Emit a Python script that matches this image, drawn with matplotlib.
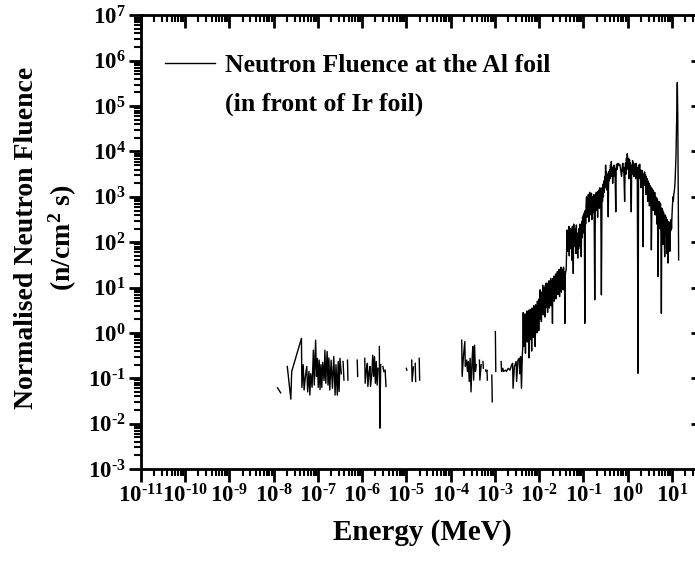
import numpy as np
import matplotlib
matplotlib.use('Agg')
import matplotlib.pyplot as plt
from matplotlib.ticker import LogLocator, NullFormatter, FuncFormatter

plt.rcParams['font.family'] = 'Liberation Serif'
plt.rcParams['font.weight'] = 'bold'
plt.rcParams['axes.labelweight'] = 'bold'
plt.rcParams['mathtext.fontset'] = 'custom'
plt.rcParams['mathtext.rm'] = 'Liberation Serif:bold'
plt.rcParams['mathtext.it'] = 'Liberation Serif:italic:bold'
plt.rcParams['mathtext.bf'] = 'Liberation Serif:bold'

GAP = [(np.nan, np.nan)]

# (log10 energy in MeV, log10 fluence), GAP = no data
thermal = [(-7.91, -1.21), (-7.84, -1.32)] + GAP + [
    (-7.69, -0.74), (-7.61, -1.46), (-7.59, -0.85), (-7.47, -0.45), (-7.37, -0.12),
    (-7.36, -1.20), (-7.33, -0.70), (-7.31, -1.26), (-7.28, -0.95), (-7.25, -0.74),
    (-7.23, -1.30), (-7.20, -0.85), (-7.18, -1.37), (-7.16, -0.90), (-7.13, -1.20),
    (-7.10, -0.38), (-7.08, -1.15), (-7.05, -0.16), (-7.03, -0.96), (-7.01, -0.56),
    (-6.99, -1.20), (-6.97, -0.60), (-6.95, -1.25), (-6.93, -0.70), (-6.91, -1.20),
    (-6.89, -0.65), (-6.86, -1.05), (-6.84, -0.38), (-6.82, -1.11), (-6.79, -0.41),
    (-6.77, -1.15), (-6.75, -0.55), (-6.73, -1.26), (-6.70, -0.60), (-6.67, -1.22),
    (-6.64, -0.52), (-6.61, -1.37), (-6.59, -0.70), (-6.56, -1.37), (-6.54, -0.63),
    (-6.52, -1.29), (-6.50, -0.56), (-6.47, -0.90)] + GAP + [
    (-6.43, -0.63), (-6.41, -1.04)] + GAP + [
    (-6.33, -0.60), (-6.32, -1.04)] + GAP + [
    (-6.11, -0.60), (-6.10, -0.96)] + GAP + [
    (-5.94, -0.56), (-5.93, -1.11), (-5.90, -0.78), (-5.88, -0.67), (-5.87, -1.18),
    (-5.84, -0.85), (-5.82, -0.74), (-5.81, -1.18), (-5.78, -0.90), (-5.76, -0.49),
    (-5.74, -0.96), (-5.72, -0.52), (-5.70, -1.11), (-5.68, -0.63), (-5.66, -1.15),
    (-5.64, -0.78)] + GAP + [
    (-5.61, -0.30), (-5.60, -2.10), (-5.58, -0.70)] + GAP + [
    (-5.53, -0.74), (-5.51, -0.85)] + GAP + [
    (-5.48, -0.82), (-5.46, -1.18)]

epithermal = GAP + [(-5.00, -0.78), (-4.99, -0.82)] + GAP + [
    (-4.88, -0.60), (-4.87, -1.07), (-4.84, -0.75)] + GAP + [
    (-4.80, -0.67), (-4.79, -1.07)] + GAP + [
    (-4.71, -0.56), (-4.70, -1.04)] + GAP + [
    (-3.75, -0.16), (-3.74, -0.96), (-3.71, -0.50), (-3.68, -0.19), (-3.67, -0.74),
    (-3.64, -0.60), (-3.62, -0.85), (-3.60, -0.63), (-3.58, -1.07), (-3.56, -0.56),
    (-3.54, -1.30), (-3.52, -0.70), (-3.50, -0.30), (-3.48, -1.04), (-3.46, -0.27),
    (-3.44, -0.85), (-3.42, -0.70)] + GAP + [
    (-3.35, -0.60), (-3.34, -1.04), (-3.31, -0.70)] + GAP + [
    (-3.27, -0.63), (-3.26, -0.78)] + GAP + [
    (-3.21, -0.82), (-3.20, -0.85), (-3.18, -0.82), (-3.17, -1.04)] + GAP + [
    (-3.07, -0.93), (-3.06, -1.52)] + GAP + [
    (-2.99, 0.03), (-2.98, -0.85)] + GAP + [
    (-2.86, -0.63), (-2.85, -0.85), (-2.82, -0.78), (-2.81, -0.85), (-2.76, -0.82),
    (-2.74, -0.85), (-2.70, -0.78), (-2.66, -0.82), (-2.62, -0.70), (-2.60, -0.67),
    (-2.59, -1.22), (-2.56, -0.74), (-2.52, -0.63), (-2.51, -1.07), (-2.48, -0.60),
    (-2.45, -0.56), (-2.44, -0.90), (-2.42, -0.52), (-2.40, -1.22), (-2.38, -0.45),
    (-2.37, -0.30)]

fast = [
    (-2.36, 0.45), (-2.35, -0.30), (-2.34, 0.40), (-2.33, -0.10), (-2.32, 0.42),
    (-2.31, -0.45), (-2.30, 0.30), (-2.29, 0.05), (-2.28, 0.48), (-2.27, -0.20),
    (-2.26, 0.38), (-2.25, -0.05), (-2.24, 0.50), (-2.23, -0.55), (-2.22, 0.35),
    (-2.21, 0.10), (-2.20, 0.52), (-2.19, -0.15), (-2.18, 0.45), (-2.17, -0.40),
    (-2.16, 0.55), (-2.15, 0.05), (-2.14, 0.50), (-2.13, -0.10), (-2.12, 0.60),
    (-2.11, 0.15), (-2.10, 0.55), (-2.09, -0.30), (-2.08, 0.62), (-2.07, 0.10),
    (-2.06, 0.58), (-2.05, 0.00), (-2.04, 0.70), (-2.03, 0.20), (-2.02, 0.65),
    (-2.01, 0.05), (-2.00, 0.75), (-1.99, 0.30), (-1.98, 0.95), (-1.97, 0.45),
    (-1.96, 0.85), (-1.95, 0.25), (-1.94, 0.90), (-1.93, 0.50), (-1.92, 1.05),
    (-1.91, 0.40), (-1.90, 0.95), (-1.89, 0.60), (-1.88, 1.00), (-1.87, 0.35),
    (-1.86, 1.05), (-1.85, 0.55), (-1.84, 1.10), (-1.83, 0.70), (-1.82, 1.00),
    (-1.81, 0.45), (-1.80, 1.10), (-1.79, 0.65), (-1.78, 1.15), (-1.77, 0.55),
    (-1.76, 1.05), (-1.75, 0.75), (-1.74, 1.20), (-1.73, 0.60), (-1.72, 1.15),
    (-1.71, 0.85), (-1.70, 0.21), (-1.69, 1.20), (-1.68, 0.80), (-1.67, 1.25),
    (-1.66, 0.70), (-1.65, 1.15), (-1.64, 0.95), (-1.63, 1.30), (-1.62, 0.75),
    (-1.61, 1.25), (-1.60, 0.90), (-1.59, 1.35), (-1.58, 0.85), (-1.57, 1.20),
    (-1.56, 1.00), (-1.55, 1.40), (-1.54, 0.80), (-1.53, 1.30), (-1.52, 1.05),
    (-1.51, 1.45), (-1.50, 0.90), (-1.49, 1.35), (-1.48, 1.10), (-1.47, 1.40),
    (-1.46, 0.95), (-1.45, 1.45), (-1.44, 1.20), (-1.43, 1.35), (-1.42, 0.21),
    (-1.41, 1.30), (-1.39, 1.40), (-1.37, 2.27), (-1.36, 1.80), (-1.35, 2.20),
    (-1.34, 1.95), (-1.33, 2.35), (-1.32, 1.70), (-1.31, 2.25), (-1.30, 2.05),
    (-1.29, 2.30), (-1.28, 1.85), (-1.27, 2.20), (-1.26, 1.60), (-1.25, 2.35),
    (-1.24, 2.10), (-1.23, 1.31), (-1.22, 2.40), (-1.21, 2.05), (-1.20, 2.30),
    (-1.19, 1.90), (-1.18, 2.25), (-1.17, 1.75), (-1.16, 2.38), (-1.15, 2.00),
    (-1.14, 2.20), (-1.13, 1.65), (-1.12, 2.15), (-1.11, 1.85), (-1.10, 2.30),
    (-1.09, 2.00), (-1.08, 2.40), (-1.07, 1.90), (-1.06, 2.35), (-1.05, 1.68),
    (-1.04, 2.45), (-1.03, 2.10), (-1.02, 2.55), (-1.01, 2.20), (-1.00, 2.60),
    (-0.99, 2.30), (-0.98, 2.65), (-0.97, 0.21), (-0.96, 2.70), (-0.95, 2.40),
    (-0.94, 2.85), (-0.93, 3.00), (-0.92, 2.55), (-0.91, 2.90), (-0.90, 2.70),
    (-0.89, 3.05), (-0.88, 2.45), (-0.87, 2.95), (-0.86, 3.10), (-0.85, 2.60),
    (-0.84, 3.00), (-0.83, 2.75), (-0.82, 3.08), (-0.81, 2.50), (-0.80, 2.95),
    (-0.79, 3.00), (-0.78, 2.65), (-0.77, 3.05), (-0.76, 2.80), (-0.745, 0.73),
    (-0.73, 3.05), (-0.72, 2.70), (-0.71, 3.10), (-0.70, 2.85), (-0.69, 3.00),
    (-0.68, 2.55), (-0.67, 3.12), (-0.66, 2.90), (-0.65, 3.15), (-0.64, 2.75),
    (-0.63, 3.20), (-0.62, 2.95), (-0.61, 3.10), (-0.595, 0.84), (-0.58, 3.20),
    (-0.57, 2.90), (-0.56, 3.28), (-0.55, 3.00), (-0.54, 3.35), (-0.53, 3.10),
    (-0.52, 3.45), (-0.51, 3.20), (-0.50, 3.70), (-0.49, 3.30), (-0.48, 3.55),
    (-0.47, 3.15), (-0.46, 3.50), (-0.45, 3.25), (-0.44, 2.56), (-0.43, 3.55),
    (-0.42, 3.35), (-0.41, 3.60), (-0.40, 3.40), (-0.39, 3.70), (-0.38, 3.45),
    (-0.37, 3.78), (-0.36, 3.50), (-0.35, 3.65), (-0.34, 3.30), (-0.33, 3.60),
    (-0.32, 3.45), (-0.31, 3.70), (-0.30, 3.55), (-0.29, 3.62), (-0.28, 3.20),
    (-0.27, 2.67), (-0.26, 3.65), (-0.25, 3.72), (-0.24, 3.60), (-0.22, 3.74),
    (-0.20, 3.70), (-0.18, 3.72), (-0.16, 3.60), (-0.14, 3.45), (-0.12, 3.70),
    (-0.11, 3.74), (-0.10, 3.55), (-0.09, 3.65), (-0.08, 3.30), (-0.07, 2.90),
    (-0.06, 3.60), (-0.05, 3.75), (-0.04, 3.50), (-0.03, 3.85), (-0.02, 3.70),
    (-0.01, 3.95), (0.00, 3.80), (0.01, 3.60), (0.02, 3.85), (0.03, 3.40),
    (0.04, 3.82), (0.05, 3.55), (0.06, 3.75), (0.07, 3.30), (0.08, 2.67),
    (0.09, 3.70), (0.10, 3.50), (0.11, 3.80), (0.12, 3.60), (0.13, 3.75),
    (0.14, 3.45), (0.15, 3.72), (0.16, 3.55), (0.17, 3.70), (0.18, 3.40),
    (0.19, 3.74), (0.20, 3.50), (0.215, 3.65), (0.233, -0.89), (0.245, 3.70),
    (0.26, 3.55), (0.27, 3.72), (0.28, 3.40), (0.29, 3.60), (0.30, 3.20),
    (0.31, 3.55), (0.32, 3.35), (0.33, 3.58), (0.34, 3.10), (0.346, 1.90),
    (0.355, 3.50), (0.37, 3.30), (0.38, 3.55), (0.39, 3.25), (0.40, 3.48),
    (0.41, 3.05), (0.42, 3.45), (0.43, 3.20), (0.44, 3.40), (0.45, 2.90),
    (0.46, 3.35), (0.47, 3.15), (0.48, 3.30), (0.49, 2.80), (0.50, 3.25),
    (0.51, 3.00), (0.52, 3.22), (0.534, 1.83), (0.55, 3.18), (0.56, 2.95),
    (0.57, 3.15), (0.58, 2.70), (0.59, 3.05), (0.60, 2.85), (0.61, 3.10),
    (0.62, 2.60), (0.63, 3.00), (0.64, 2.80), (0.65, 2.98), (0.66, 2.40),
    (0.67, 2.95), (0.685, 1.24), (0.70, 2.90), (0.71, 2.55), (0.72, 2.88),
    (0.73, 2.30), (0.74, 2.85), (0.75, 2.20), (0.76, 0.43), (0.77, 2.75),
    (0.78, 2.50), (0.79, 2.70), (0.80, 1.95), (0.81, 2.65), (0.82, 2.40),
    (0.835, 1.68), (0.85, 2.60), (0.86, 2.20), (0.87, 2.55), (0.88, 1.75),
    (0.89, 2.50), (0.90, 2.20), (0.91, 1.54), (0.92, 2.45), (0.93, 2.10),
    (0.94, 2.40), (0.95, 1.80), (0.96, 2.45), (0.97, 2.25), (0.98, 2.50),
    (0.99, 2.30), (1.00, 2.60), (1.01, 2.80), (1.02, 3.00), (1.03, 2.90),
    (1.04, 3.05), (1.05, 3.10), (1.06, 3.20), (1.07, 3.35), (1.08, 3.60),
    (1.09, 3.90), (1.10, 4.40), (1.11, 5.00), (1.12, 5.52), (1.13, 4.80),
    (1.14, 3.20), (1.15, 1.61)]

pts = np.array(thermal + epithermal + fast, dtype=float)
energy = 10 ** pts[:, 0]
fluence = 10 ** pts[:, 1]


def pow10(v, pos):
    n = int(round(np.log10(v)))
    if n < 0:
        return r'$\mathdefault{10^{\text{-}%d}}$' % -n
    return r'$\mathdefault{10^{%d}}$' % n


fig = plt.figure(figsize=(6.95, 5.61), dpi=100)
ax = fig.add_axes([0.2025, 0.164, 0.809, 0.8085])

ax.plot(energy, fluence, color='black', lw=1.0, label='Neutron Fluence at the Al foil')
ax.set_xscale('log')
ax.set_yscale('log')
ax.set_xlim(1e-11, 10 ** 1.7)
ax.set_ylim(1e-3, 1e7)

for axis in (ax.xaxis, ax.yaxis):
    axis.set_major_locator(LogLocator(base=10, numticks=30))
    axis.set_minor_locator(LogLocator(base=10, subs=np.arange(2, 10), numticks=30))
    axis.set_major_formatter(FuncFormatter(pow10))
    axis.set_minor_formatter(NullFormatter())

ax.tick_params(which='major', direction='out', length=9, width=2, labelsize=16.5, pad=2)
ax.tick_params(which='minor', direction='out', length=5, width=1.5)
for s in ax.spines.values():
    s.set_linewidth(2)

# top and right: ticks pointing inward, no labels
top = ax.twiny()
right = ax.twinx()
top.set_xscale('log')
top.set_xlim(ax.get_xlim())
right.set_yscale('log')
right.set_ylim(ax.get_ylim())
for a, axis in ((top, top.xaxis), (right, right.yaxis)):
    axis.set_major_locator(LogLocator(base=10, numticks=30))
    axis.set_minor_locator(LogLocator(base=10, subs=np.arange(2, 10), numticks=30))
    axis.set_major_formatter(NullFormatter())
    axis.set_minor_formatter(NullFormatter())
    a.tick_params(which='major', direction='in', length=9, width=2)
    a.tick_params(which='minor', direction='in', length=5, width=1.5)

ax.set_xlabel('Energy (MeV)', fontsize=21, labelpad=8)
ax.set_ylabel('Normalised Neutron Fluence\n(n/cm$^2$ s)', fontsize=20, linespacing=1.3)
ax.yaxis.set_label_coords(-0.11, 0.51)

ax.legend(loc='upper left', bbox_to_anchor=(0.043, 0.915), frameon=False, fontsize=18.5,
          handlelength=1.95, handletextpad=0.4, borderpad=0, borderaxespad=0)
ax.text(0.15, 0.805, '(in front of Ir foil)', transform=ax.transAxes, fontsize=18.5,
        va='center', ha='left')

fig.savefig('out.png', dpi=100)
